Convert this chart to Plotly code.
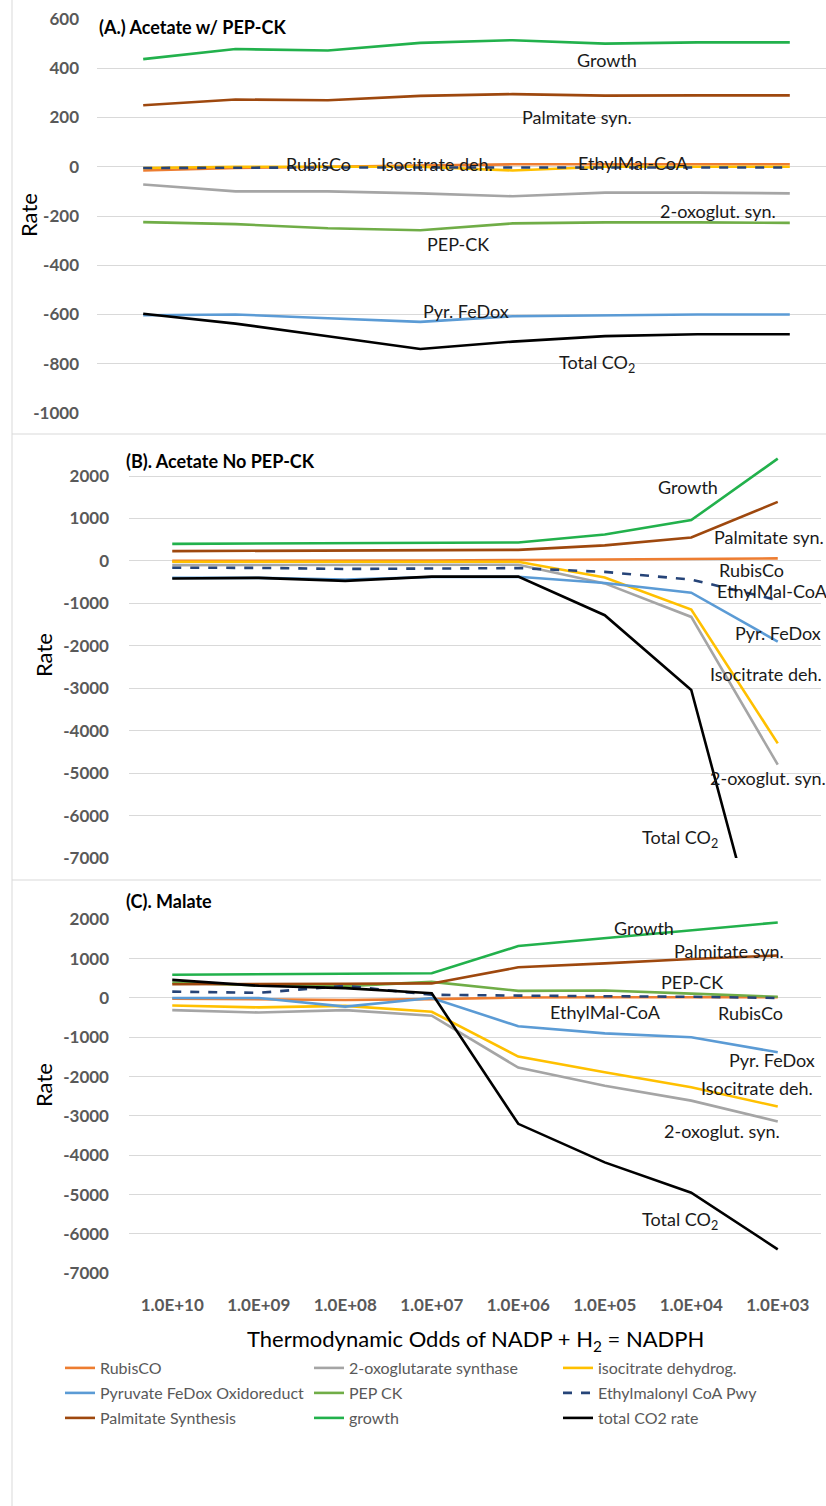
import plotly.graph_objects as go

# ---------------- data ----------------
x_labels = ["1.0E+10", "1.0E+09", "1.0E+08", "1.0E+07", "1.0E+06", "1.0E+05", "1.0E+04", "1.0E+03"]
x_idx = list(range(len(x_labels)))

series_names = ["RubisCO", "2-oxoglutarate synthase", "isocitrate dehydrog.",
                "Pyruvate FeDox Oxidoreduct", "PEP CK", "Ethylmalonyl CoA Pwy",
                "Palmitate Synthesis", "growth", "total CO2 rate"]

# Panel A: Acetate w/ PEP-CK
A_rubisco = [-15, -5, 0, 5, 10, 10, 10, 10]
A_oxoglut = [-72, -100, -100, -108, -120, -105, -105, -108]
A_isocit = [-5, 0, 0, 0, -15, 0, 0, 0]
A_pyr = [-603, -600, -615, -630, -607, -602, -600, -600]
A_pepck = [-225, -233, -250, -258, -230, -226, -226, -228]
A_ethyl = [-5, -3, -3, -3, -3, -3, -3, -3]
A_palm = [250, 273, 270, 288, 295, 289, 290, 290]
A_growth = [437, 478, 472, 503, 514, 500, 505, 505]
A_total = [-597, -637, -688, -740, -710, -688, -680, -680]

# Panel B: Acetate No PEP-CK
B_rubisco = [0, 0, 0, 10, 20, 30, 45, 60]
B_oxoglut = [-100, -100, -100, -100, -90, -530, -1320, -4800]
B_isocit = [-20, -20, -20, -20, -20, -390, -1145, -4300]
B_pyr = [-400, -400, -440, -380, -375, -520, -750, -1900]
B_ethyl = [-160, -165, -190, -175, -170, -260, -440, -925]
B_palm = [230, 240, 245, 250, 260, 365, 550, 1390]
B_growth = [400, 410, 420, 430, 435, 620, 960, 2410]
B_total = [-415, -400, -470, -370, -370, -1280, -3040, -10650]

# Panel C: Malate
C_rubisco = [-20, -30, -50, -30, 10, 20, 20, 20]
C_oxoglut = [-310, -370, -310, -450, -1770, -2230, -2610, -3140]
C_isocit = [-190, -240, -200, -350, -1490, -1890, -2270, -2760]
C_pyr = [0, 0, -220, 0, -720, -900, -1000, -1380]
C_pepck = [390, 320, 300, 410, 180, 190, 110, 30]
C_ethyl = [160, 130, 310, 80, 60, 50, 30, 0]
C_palm = [350, 350, 360, 370, 780, 880, 990, 1080]
C_growth = [590, 600, 610, 630, 1320, 1520, 1710, 1920]
C_total = [460, 310, 250, 120, -3200, -4180, -4950, -6390]

A_ticks = [-1000, -800, -600, -400, -200, 0, 200, 400, 600]
BC_ticks = [-7000, -6000, -5000, -4000, -3000, -2000, -1000, 0, 1000, 2000]

# ---------------- styles ----------------
colors = {
    "RubisCO": "#ED7D31",
    "2-oxoglutarate synthase": "#A5A5A5",
    "isocitrate dehydrog.": "#FFC000",
    "Pyruvate FeDox Oxidoreduct": "#5B9BD5",
    "PEP CK": "#70AD47",
    "Ethylmalonyl CoA Pwy": "#264478",
    "Palmitate Synthesis": "#9E480E",
    "growth": "#22B14C",
    "total CO2 rate": "#000000",
}
legend_of = {
    "RubisCO": "legend", "2-oxoglutarate synthase": "legend", "isocitrate dehydrog.": "legend",
    "Pyruvate FeDox Oxidoreduct": "legend2", "PEP CK": "legend2", "Ethylmalonyl CoA Pwy": "legend2",
    "Palmitate Synthesis": "legend3", "growth": "legend3", "total CO2 rate": "legend3",
}

panels = [
    ("x", "y", [A_rubisco, A_oxoglut, A_isocit, A_pyr, A_pepck, A_ethyl, A_palm, A_growth, A_total], True),
    ("x2", "y2", [B_rubisco, B_oxoglut, B_isocit, B_pyr, None, B_ethyl, B_palm, B_growth, B_total], False),
    ("x3", "y3", [C_rubisco, C_oxoglut, C_isocit, C_pyr, C_pepck, C_ethyl, C_palm, C_growth, C_total], False),
]

fig = go.Figure()
for xa, ya, vals, show in panels:
    for name, v in zip(series_names, vals):
        if v is None:
            continue
        fig.add_trace(go.Scatter(
            x=x_idx, y=v, mode="lines", name=name, xaxis=xa, yaxis=ya,
            line=dict(color=colors[name], width=2.6,
                      dash="dash" if name == "Ethylmalonyl CoA Pwy" else "solid"),
            showlegend=show, legendgroup=name, legend=legend_of[name],
        ))

W, H = 826, 1506
def py(px):
    return 1 - px / H

tickfont = dict(family="Lato", size=17, color="#595959", weight="bold")
grid = "#D9D9D9"

common_y = dict(showgrid=True, gridcolor=grid, gridwidth=1, zeroline=False, automargin=False,
                tickfont=tickfont, ticks="", showline=False, tickmode="array")
common_x = dict(showgrid=False, zeroline=False, showline=False, ticks="", automargin=False,
                tickvals=x_idx, ticktext=x_labels)

# B panel: plot area extends a bit above the 2000 gridline (476 px) up to 445 px
B_top = 2000 + (476 - 445) * 9000 / (858 - 476)

fig.update_layout(
    width=W, height=H, margin=dict(l=0, r=0, t=0, b=0, autoexpand=False),
    paper_bgcolor="white", plot_bgcolor="white",
    font=dict(family="Lato"),
    xaxis=dict(common_x, domain=[97 / W, 1.0], range=[-0.5, 7.392], anchor="y", showticklabels=False),
    yaxis=dict(common_y, domain=[py(413), py(19)], range=[-1000, 600], tickvals=A_ticks,
               ticktext=[str(t) for t in A_ticks], anchor="x", ticklabelstandoff=17),
    xaxis2=dict(common_x, domain=[129 / W, 821 / W], range=[-0.5, 7.5], anchor="y2", showticklabels=False),
    yaxis2=dict(common_y, domain=[py(858), py(445)], range=[-7000, B_top], tickvals=BC_ticks,
                ticktext=[str(t) for t in BC_ticks], anchor="x2", ticklabelstandoff=19),
    xaxis3=dict(common_x, domain=[129 / W, 821 / W], range=[-0.5, 7.5], anchor="y3",
                tickfont=tickfont, ticklabelstandoff=20),
    yaxis3=dict(common_y, domain=[py(1273.3), py(919.3)], range=[-7000, 2000], tickvals=BC_ticks,
                ticktext=[str(t) for t in BC_ticks], anchor="x3", ticklabelstandoff=19),
)

legend_common = dict(orientation="h", font=dict(family="Lato", size=16, color="#595959"),
                     bgcolor="rgba(0,0,0,0)", entrywidth=204, entrywidthmode="pixels",
                     x=60 / W, xanchor="left", yanchor="middle", itemwidth=30, traceorder="normal")
fig.update_layout(
    legend=dict(legend_common, y=py(1368)),
    legend2=dict(legend_common, y=py(1393)),
    legend3=dict(legend_common, y=py(1418)),
)

# axis titles
axt_font = dict(family="Lato", size=22, color="#000000")
for yc, xc in [(215, 29), (655, 43), (1085, 43)]:
    fig.add_annotation(text="Rate", xref="paper", yref="paper", x=xc / W, y=py(yc),
                       xanchor="center", yanchor="middle", textangle=-90, showarrow=False, font=axt_font)
fig.add_annotation(text="Thermodynamic Odds of NADP + H<sub>2</sub> = NADPH", xref="paper", yref="paper",
                   x=475 / W, y=py(1340), xanchor="center", yanchor="middle", showarrow=False, font=axt_font)

# panel titles
title_font = dict(family="Lato", size=18, color="#000000")
fig.add_annotation(text="<b>(A.) Acetate w/ PEP-CK</b>", xref="paper", yref="paper",
                   x=97 / W, y=py(27), xanchor="left", yanchor="middle", showarrow=False, font=title_font)
fig.add_annotation(text="<b>(B). Acetate No PEP-CK</b>", xref="paper", yref="paper",
                   x=124 / W, y=py(461), xanchor="left", yanchor="middle", showarrow=False, font=title_font)
fig.add_annotation(text="<b>(C). Malate</b>", xref="paper", yref="paper",
                   x=124 / W, y=py(901), xanchor="left", yanchor="middle", showarrow=False, font=title_font)

# line labels (data coordinates)
lab_font = dict(family="Lato", size=18, color="#1A1A1A")
CO2 = "Total CO<sub>2</sub>"
A_labels = [("Growth", 5.02, 432, "center"), ("Palmitate syn.", 4.70, 202, "center"),
            ("RubisCo", 1.90, 12, "center"), ("Isocitrate deh.", 3.18, 12, "center"),
            ("EthylMal-CoA", 5.31, 16, "center"), ("2-oxoglut. syn.", 6.22, -178, "center"),
            ("PEP-CK", 3.41, -315, "center"), ("Pyr. FeDox", 3.49, -586, "center"),
            (CO2, 4.91, -800, "center")]
B_labels = [("Growth", 5.96, 1741, "center"), ("Palmitate syn.", 6.24, 565, "left"),
            ("RubisCo", 6.30, -203, "left"), ("EthylMal-CoA", 6.27, -706, "left"),
            ("Pyr. FeDox", 6.48, -1709, "left"), ("Isocitrate deh.", 6.19, -2666, "left"),
            ("2-oxoglut. syn.", 6.19, -5121, "left"), (CO2, 5.87, -6533, "center")]
C_labels = [("Growth", 5.45, 1781, "center"), ("Palmitate syn.", 6.44, 1204, "center"),
            ("PEP-CK", 6.01, 397, "center"), ("EthylMal-CoA", 5.01, -349, "center"),
            ("RubisCo", 6.68, -382, "center"), ("Pyr. FeDox", 6.93, -1570, "center"),
            ("Isocitrate deh.", 6.76, -2291, "center"), ("2-oxoglut. syn.", 6.36, -3377, "center"),
            (CO2, 5.87, -5668, "center")]
for (xa, ya), labels in [(("x", "y"), A_labels), (("x2", "y2"), B_labels), (("x3", "y3"), C_labels)]:
    for text, xv, yv, anc in labels:
        fig.add_annotation(text=text, x=xv, y=yv, xref=xa, yref=ya, xanchor=anc, yanchor="middle",
                           showarrow=False, font=lab_font)

# panel frames
frame = dict(color="#D9D9D9", width=1)
fig.add_shape(type="line", xref="paper", yref="paper", x0=12 / W, x1=12 / W, y0=0, y1=1, line=frame)
fig.add_shape(type="line", xref="paper", yref="paper", x0=12 / W, x1=1, y0=py(434), y1=py(434), line=frame)
fig.add_shape(type="line", xref="paper", yref="paper", x0=12 / W, x1=821 / W, y0=py(880), y1=py(880), line=frame)

fig.write_html("out.html", config={"displayModeBar": False},
               post_script="document.body.style.margin='0';document.body.style.overflow='hidden';")
